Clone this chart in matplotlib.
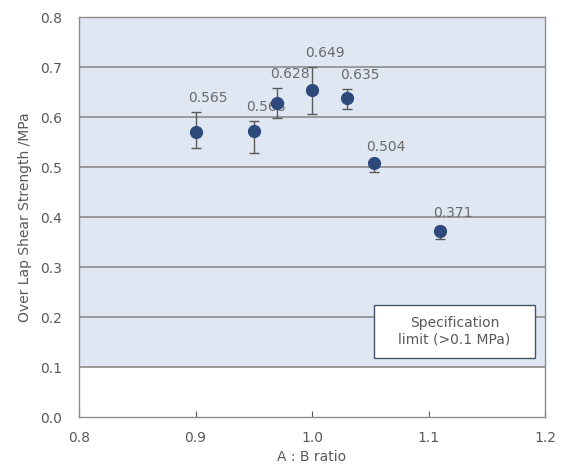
import matplotlib
matplotlib.use("Agg")
import matplotlib.pyplot as plt
from matplotlib.patches import Rectangle
import numpy as np

# A:B ratio vs over lap shear strength
ratio = [0.90, 0.95, 0.97, 1.00, 1.03, 1.053, 1.11]
strength = [0.570, 0.572, 0.628, 0.654, 0.638, 0.508, 0.372]
err_low = [0.032, 0.044, 0.030, 0.048, 0.022, 0.018, 0.016]
err_high = [0.040, 0.020, 0.030, 0.046, 0.018, 0.004, 0.008]
labels = ["0.565", "0.568", "0.628", "0.649", "0.635", "0.504", "0.371"]
spec_limit = 0.1

grey = "#595959"
navy = "#2e4a7d"

plt.rcParams['font.family'] = ['DejaVu Sans']
fig = plt.figure(figsize=(5.62, 4.71), dpi=100)
ax = fig.add_axes([0.1406, 0.1146, 0.8292, 0.8493])

# shaded acceptable region above spec limit
ax.axhspan(spec_limit, 0.8, facecolor="#dfe7f3", edgecolor="none", zorder=0)
for y in np.arange(0.1, 0.75, 0.1):
    ax.axhline(y, color="#8c8c8c", lw=1.2, zorder=1)

ax.errorbar(ratio, strength, yerr=[err_low, err_high], fmt='o', color=navy,
            ms=8.5, ecolor=grey, elinewidth=1.0, capsize=3.5, capthick=1.0, zorder=3)

for x, y, eh, lab in zip(ratio, strength, err_high, labels):
    ax.annotate(lab, xy=(x, y + eh), xytext=(9, 10), textcoords='offset points',
                ha='center', va='center', fontsize=10, color="#6b6b6b", zorder=2)

# spec limit note
ax.add_patch(Rectangle((1.0532, 0.118), 0.1382, 0.106, facecolor='white',
                       edgecolor='#44546a', lw=1.0, zorder=4))
ax.text(1.1223, 0.171, "Specification\nlimit (>0.1 MPa)", ha='center', va='center',
        fontsize=10, color=grey, linespacing=1.2, zorder=5)

ax.set_xlim(0.8, 1.2)
ax.set_ylim(0.0, 0.8)
ax.set_xticks([0.8, 0.9, 1.0, 1.1, 1.2])
ax.set_yticks(np.arange(0.0, 0.81, 0.1))
ax.xaxis.set_major_formatter(matplotlib.ticker.FormatStrFormatter('%.1f'))
ax.yaxis.set_major_formatter(matplotlib.ticker.FormatStrFormatter('%.1f'))
ax.tick_params(axis='x', direction='in', length=4, color=grey, labelcolor=grey,
               labelsize=10, pad=10)
ax.tick_params(axis='y', length=0, labelcolor=grey, labelsize=10, pad=12)
for s in ax.spines.values():
    s.set_color("#8c8c8c")
    s.set_linewidth(1.0)

ax.set_xlabel("A : B ratio", color=grey, fontsize=10, labelpad=4)
ax.set_ylabel("Over Lap Shear Strength /MPa", color=grey, fontsize=10, labelpad=6)

fig.savefig("out.png", dpi=100)
